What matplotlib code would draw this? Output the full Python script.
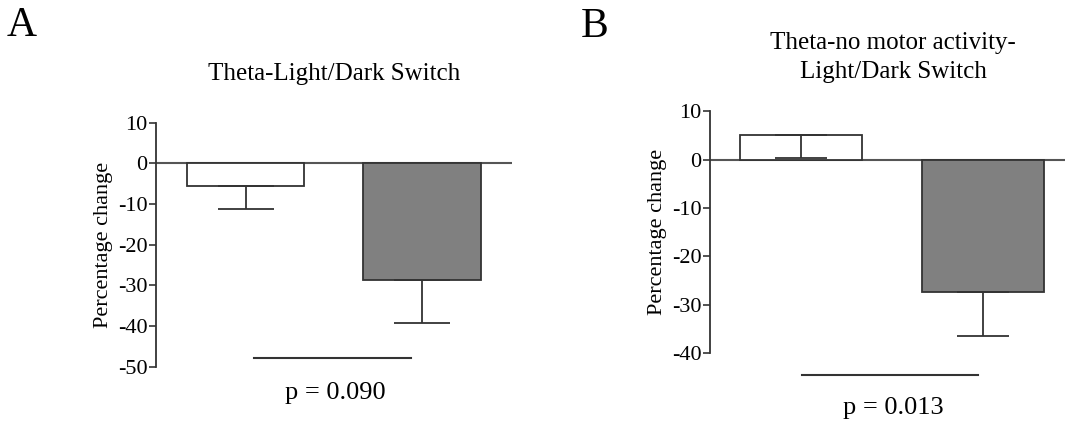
import numpy as np
import matplotlib.pyplot as plt

plt.rcParams['font.family'] = ['Liberation Serif', 'DejaVu Serif']
plt.rcParams['axes.unicode_minus'] = False

# panel A: Theta-Light/Dark Switch
a_means = [-5.5, -28.7]
a_err = [5.8, 10.5]
a_p = "p = 0.090"

# panel B: Theta-no motor activity-Light/Dark Switch
b_means = [5.0, -27.4]
b_err = [4.65, 9.1]
b_p = "p = 0.013"

bar_colors = ['white', '#808080']
edge = '#333333'
line_col = '#555555'

fig = plt.figure(figsize=(10.65, 4.25), dpi=100)


def panel(ax, means, err, ylim, yticks, sig_y, sig_x, capsize, xlim):
    x = np.arange(len(means))
    ax.bar(x, means, width=0.667, color=bar_colors, edgecolor=edge, linewidth=1.3, zorder=2)
    # one-sided error bars
    ax.errorbar(x, means, yerr=[err, [0] * len(err)], fmt='none', ecolor=edge,
                elinewidth=1.3, capsize=capsize, capthick=1.3, zorder=3)
    ax.axhline(0, color=line_col, lw=1.5, zorder=1)
    ax.set_xlim(*xlim)
    ax.set_ylim(*ylim)
    ax.set_yticks(yticks)
    ax.set_xticks([])
    for s in ['top', 'right', 'bottom']:
        ax.spines[s].set_visible(False)
    ax.spines['left'].set_color(edge)
    ax.spines['left'].set_linewidth(1.3)
    ax.tick_params(axis='y', length=5, width=1.2, color=edge, pad=1, labelsize=16)
    ax.set_ylabel("Percentage change", fontsize=16, labelpad=4)
    ax.plot(sig_x, [sig_y, sig_y], color=edge, lw=1.5, clip_on=False)
    return ax


axA = fig.add_axes([0.1465, 0.1372, 0.3343, 0.574])
panel(axA, a_means, a_err, (-50, 10), np.arange(-50, 11, 10),
      -47.8, [0.048, 0.938], 20.5, (-0.507, 1.51))
axA.text(0.507, -56.5, a_p, ha='center', va='center', fontsize=19)
fig.text(334 / 1065, 1 - 74 / 425, "Theta-Light/Dark Switch", fontsize=18,
         ha='center', va='center')

axB = fig.add_axes([0.6667, 0.1687, 0.3333, 0.570])
panel(axB, b_means, b_err, (-40, 10), np.arange(-40, 11, 10),
      -44.4, [0.005, 0.975], 18.5, (-0.499, 1.45))
axB.text(0.51, -51.2, b_p, ha='center', va='center', fontsize=19)
fig.text(893 / 1065, 1 - 42.7 / 425, "Theta-no motor activity-", fontsize=18,
         ha='center', va='center')
fig.text(893 / 1065, 1 - 71.7 / 425, "Light/Dark Switch", fontsize=18,
         ha='center', va='center')

fig.text(22 / 1065, 1 - 26 / 425, "A", fontsize=30, ha='center', va='center')
fig.text(595 / 1065, 1 - 27 / 425, "B", fontsize=30, ha='center', va='center')

fig.savefig("out.png", dpi=100)
